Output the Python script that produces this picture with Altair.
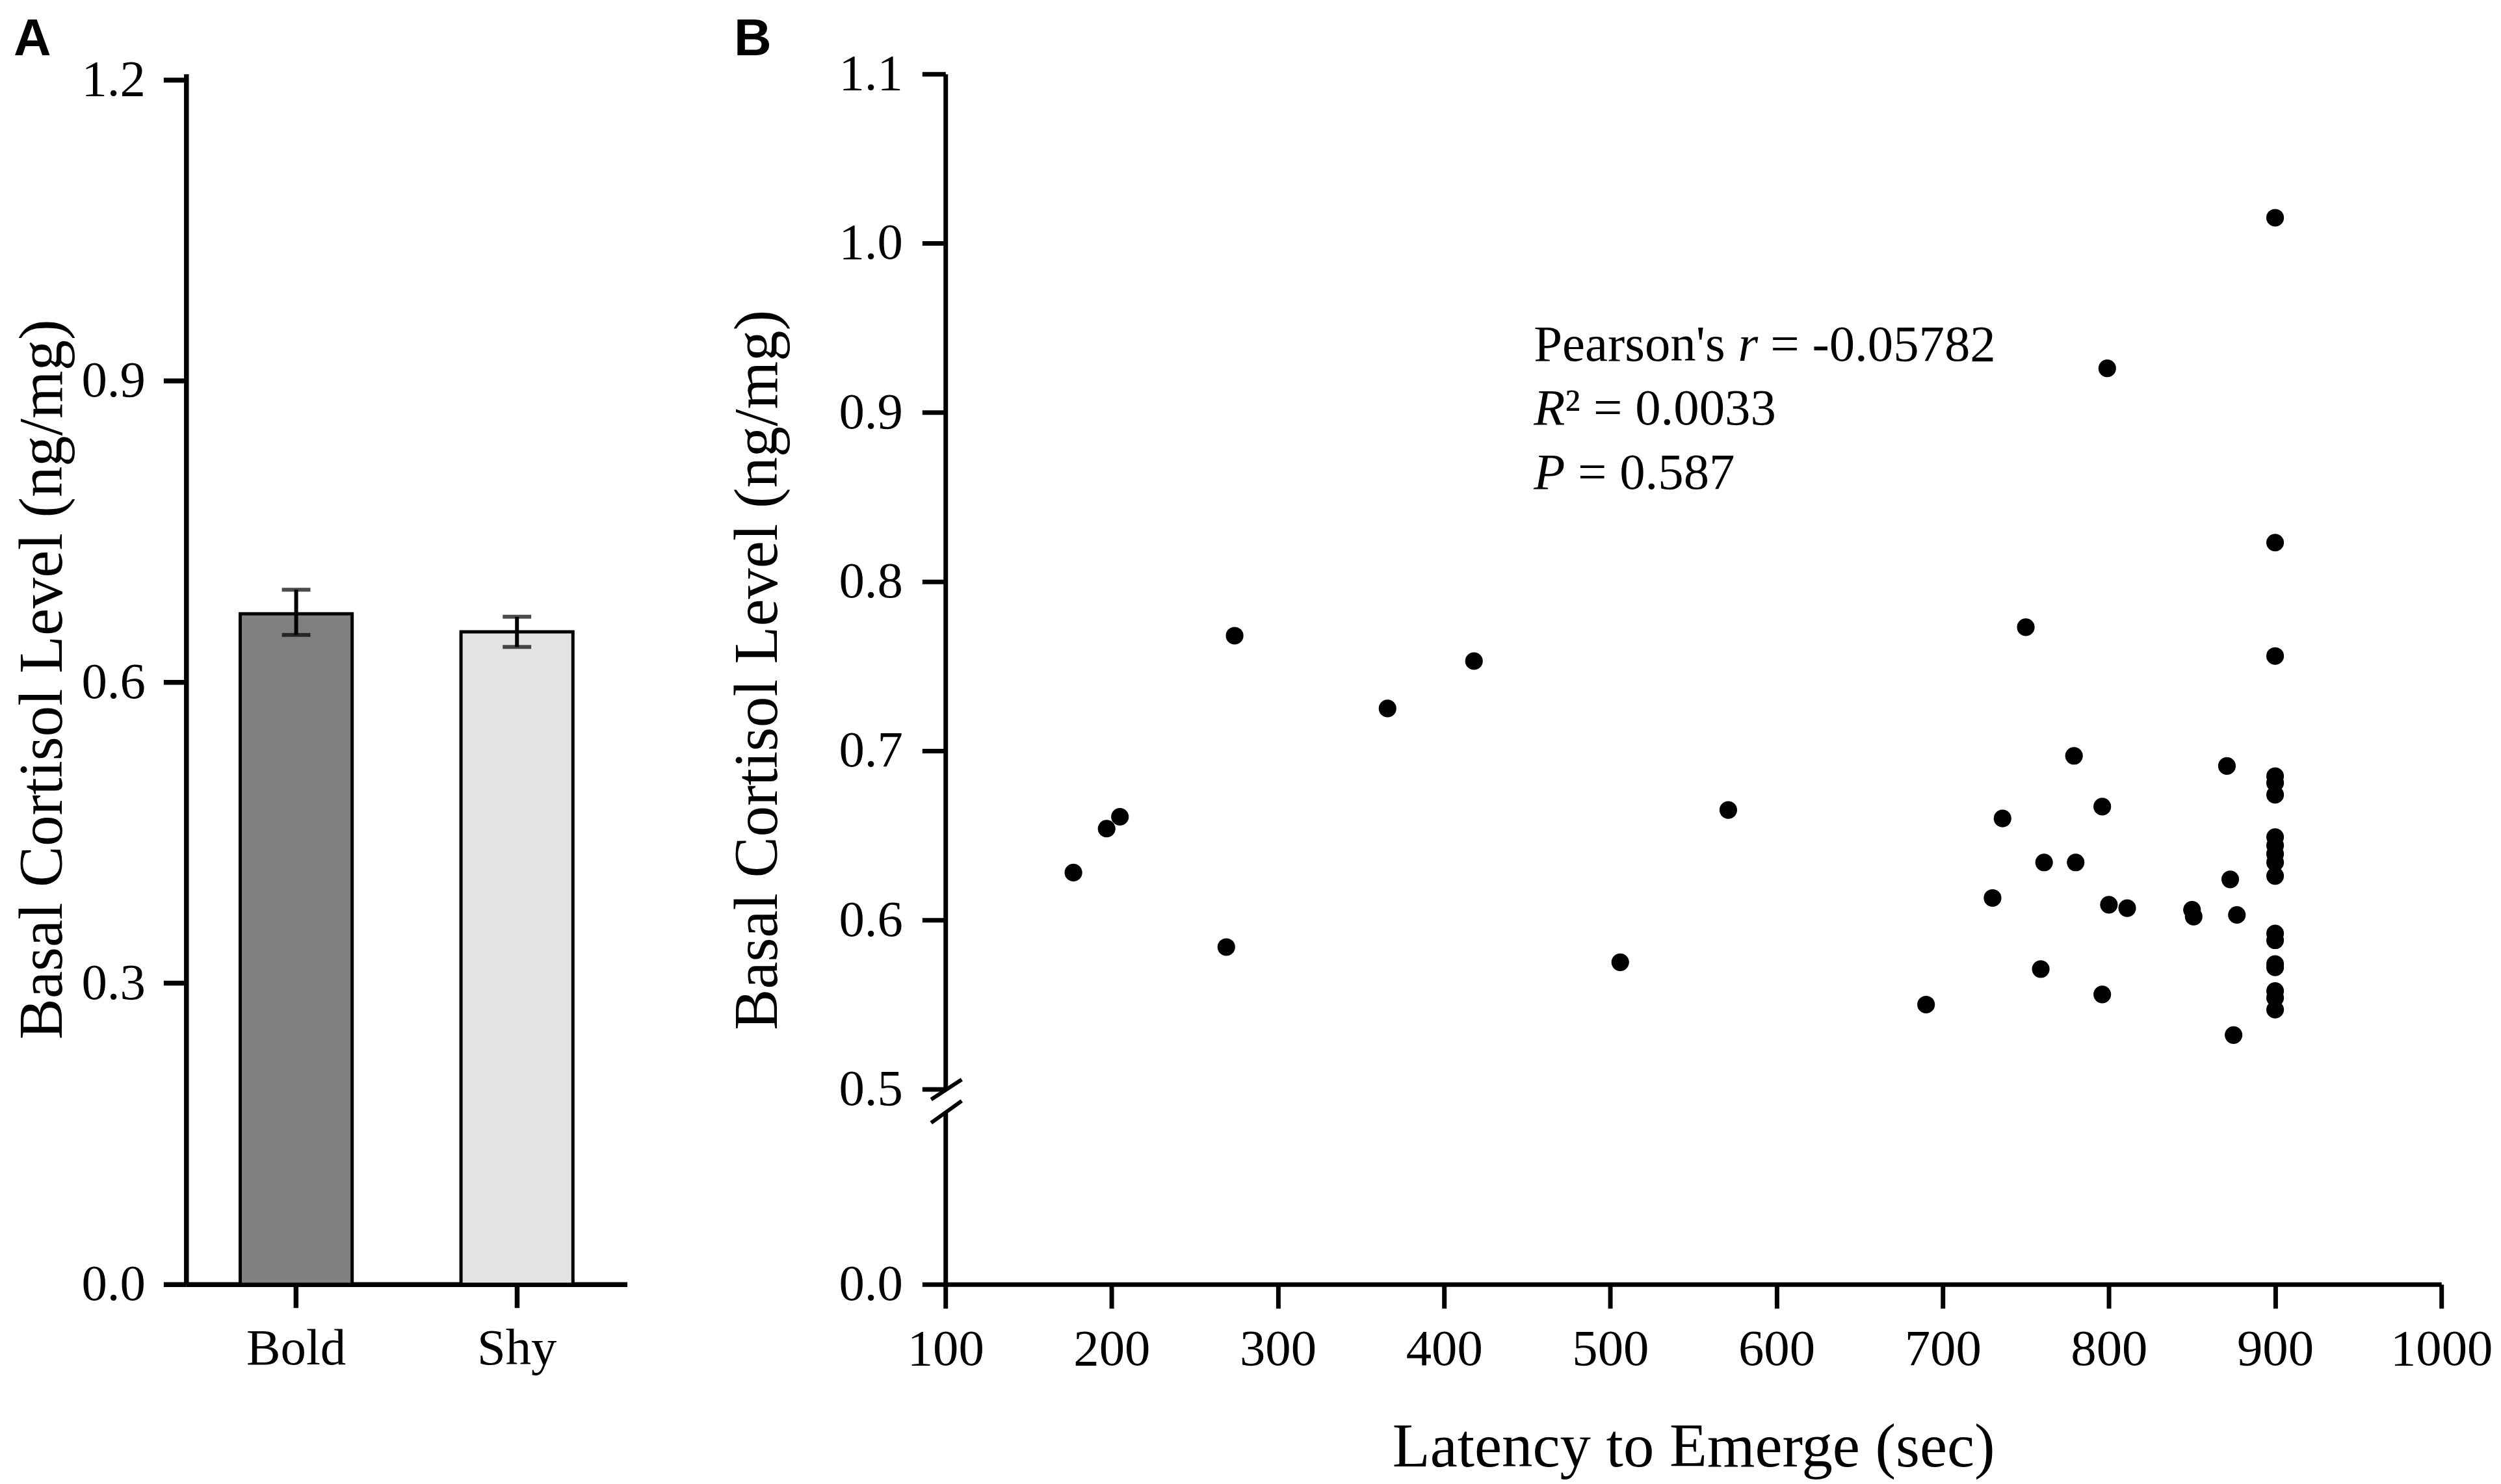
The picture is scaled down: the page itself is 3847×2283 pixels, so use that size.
import altair as alt
import pandas as pd

SERIF = "Liberation Serif"
SANS = "Liberation Sans"

# ---------------- Panel A data ----------------
groups = ["Bold", "Shy"]
group_means = [0.668, 0.650]
group_err_low = [0.647, 0.635]
group_err_high = [0.692, 0.665]
group_colors = ["#808080", "#e3e3e3"]
a_yticks = [0.0, 0.3, 0.6, 0.9, 1.2]

# ---------------- Panel B data ----------------
latency = [177, 197, 205, 269, 274, 366, 418, 506, 571, 690,
           730, 736, 750, 759, 761, 779, 780, 796, 796, 799,
           800, 811, 850, 851, 871, 873, 875, 877,
           900, 900, 900, 900, 900, 900, 900, 900, 900, 900,
           900, 900, 900, 900, 900, 900, 900, 900]
cortisol = [0.628, 0.654, 0.661, 0.584, 0.768, 0.725, 0.753, 0.575, 0.665, 0.550,
            0.613, 0.660, 0.773, 0.571, 0.634, 0.697, 0.634, 0.667, 0.556, 0.926,
            0.609, 0.607, 0.606, 0.602, 0.691, 0.624, 0.532, 0.603,
            1.015, 0.823, 0.756, 0.685, 0.681, 0.674, 0.649, 0.644, 0.639, 0.634,
            0.626, 0.592, 0.588, 0.574, 0.572, 0.558, 0.554, 0.547]
b_xticks = [100, 200, 300, 400, 500, 600, 700, 800, 900, 1000]
b_yticks_upper = [0.5, 0.6, 0.7, 0.8, 0.9, 1.0, 1.1]
b_yticks_lower = [0.0]

# annotation (statistics text)
ann_x = 454
ann_y = [0.9303, 0.8927, 0.8548]
ann_line = [0, 0, 0, 1, 1, 1, 2, 2]
ann_text = ["Pearson's", "r", "= -0.05782", "R", "\u00b2", "= 0.0033", "P", "= 0.587"]
ann_style = ["normal", "italic", "normal", "italic", "normal", "normal", "italic", "normal"]
ann_dx = [0, 315, 365, 0, 48, 92, 0, 68]

# axis-break marks (two short slashes at y = 0.5)
brk_x1 = [91.4, 91.4]
brk_x2 = [109.8, 109.8]
brk_y1 = [0.4939, 0.4801]
brk_y2 = [0.5057, 0.4931]

YTITLE = "Basal Cortisol Level (ng/mg)"

# ---------------- Panel A ----------------
bar_df = pd.DataFrame({"group": groups, "mean": group_means,
                       "lo": group_err_low, "hi": group_err_high})

def xa():
    return alt.X("group:N", sort=groups,
                 scale=alt.Scale(paddingInner=0.493, paddingOuter=0.245),
                 axis=alt.Axis(title=None, labelAngle=0, tickSize=36, labelPadding=25,
                               domainWidth=7.5, tickWidth=7.5))

ya_scale = alt.Scale(domain=[0, 1.2058], nice=False, zero=True)

def ya(field):
    return alt.Y(field, scale=ya_scale,
                 axis=alt.Axis(title=YTITLE, values=a_yticks, format=".1f",
                               tickSize=35, labelPadding=28, titlePadding=11,
                               domainWidth=7.5, tickWidth=7.5))

bars = alt.Chart(bar_df).mark_bar(stroke="black", strokeWidth=5).encode(
    x=xa(), y=ya("mean:Q"),
    color=alt.Color("group:N", scale=alt.Scale(domain=groups, range=group_colors), legend=None))
err = alt.Chart(bar_df).mark_rule(color="black", strokeWidth=6).encode(
    x=xa(), y=ya("lo:Q"), y2="hi:Q")
cap_lo = alt.Chart(bar_df).mark_tick(color="black", size=44, thickness=6).encode(
    x=xa(), y=ya("lo:Q"))
cap_hi = alt.Chart(bar_df).mark_tick(color="black", size=44, thickness=6).encode(
    x=xa(), y=ya("hi:Q"))

panelA = alt.layer(bars, err, cap_lo, cap_hi).properties(
    width=680, height=1867,
    title=alt.TitleParams("A", anchor="start", frame="group", dx=-266, offset=-81.5,
                          font=SANS, fontSize=80, fontWeight="bold",
                          baseline="alphabetic", color="black"))

# ---------------- Panel B ----------------
sc_df = pd.DataFrame({"latency": latency, "cortisol": cortisol})
xs = alt.Scale(domain=[100, 1000], nice=False, zero=False)
ys_up = alt.Scale(domain=[0.5, 1.1], nice=False, zero=False)
ys_low = alt.Scale(domain=[0.0, 0.1], nice=False, zero=False)

def yup(field):
    return alt.Y(field, scale=ys_up,
                 axis=alt.Axis(title=YTITLE, values=b_yticks_upper, format=".1f",
                               tickSize=36, labelPadding=30, titlePadding=76,
                               titleY=919, domainWidth=7, tickWidth=7))

def xnone(field):
    return alt.X(field, scale=xs, axis=None)

pts = alt.Chart(sc_df).mark_circle(size=740, color="black", opacity=1).encode(
    x=xnone("latency:Q"), y=yup("cortisol:Q"))

brk_df = pd.DataFrame({"x1": brk_x1, "x2": brk_x2, "y1": brk_y1, "y2": brk_y2})
brk = alt.Chart(brk_df).mark_rule(color="black", strokeWidth=6).encode(
    x=xnone("x1:Q"), x2="x2:Q", y=yup("y1:Q"), y2="y2:Q")

ann_layers = []
for i in range(len(ann_text)):
    d = pd.DataFrame({"x": [ann_x], "y": [ann_y[ann_line[i]]], "t": [ann_text[i]]})
    ann_layers.append(
        alt.Chart(d).mark_text(align="left", baseline="alphabetic", dx=ann_dx[i],
                               font=SERIF, fontSize=79, fontStyle=ann_style[i],
                               color="black").encode(
            x=xnone("x:Q"), y=yup("y:Q"), text="t:N"))

upperB = alt.layer(pts, brk, *ann_layers).properties(
    width=2307, height=1566,
    title=alt.TitleParams("B", anchor="start", frame="group", dx=-326, offset=-90.5,
                          font=SANS, fontSize=80, fontWeight="bold",
                          baseline="alphabetic", color="black"))

lowerB = alt.Chart(sc_df).transform_filter("datum.cortisol < 0").mark_circle(
    size=740, color="black").encode(
    x=alt.X("latency:Q", scale=xs,
            axis=alt.Axis(title="Latency to Emerge (sec)", values=b_xticks, format="d",
                          tickSize=37, labelPadding=25, titlePadding=65,
                          labelFlush=False, domainWidth=7, tickWidth=7)),
    y=alt.Y("cortisol:Q", scale=ys_low,
            axis=alt.Axis(title=None, values=b_yticks_lower, format=".1f",
                          tickSize=36, labelPadding=30, domainWidth=7, tickWidth=7)),
).properties(width=2307, height=265)

panelB = alt.vconcat(upperB, lowerB, spacing=36, bounds="flush").resolve_scale(
    x="independent", y="independent")

chart = alt.hconcat(panelA, panelB, spacing=491, bounds="flush").resolve_scale(
    x="independent", y="independent", color="independent"
).properties(
    padding={"left": 10, "top": 10, "right": 5, "bottom": 5},
    background="white",
).configure_view(stroke=None).configure_axis(
    domainColor="black", tickColor="black", labelColor="black", titleColor="black",
    labelFont=SERIF, titleFont=SERIF, labelFontSize=79, titleFontSize=95,
    titleFontWeight="normal", grid=False, labelOverlap=False,
)

chart.save("out.html", embed_options={"renderer": "svg", "actions": False})
